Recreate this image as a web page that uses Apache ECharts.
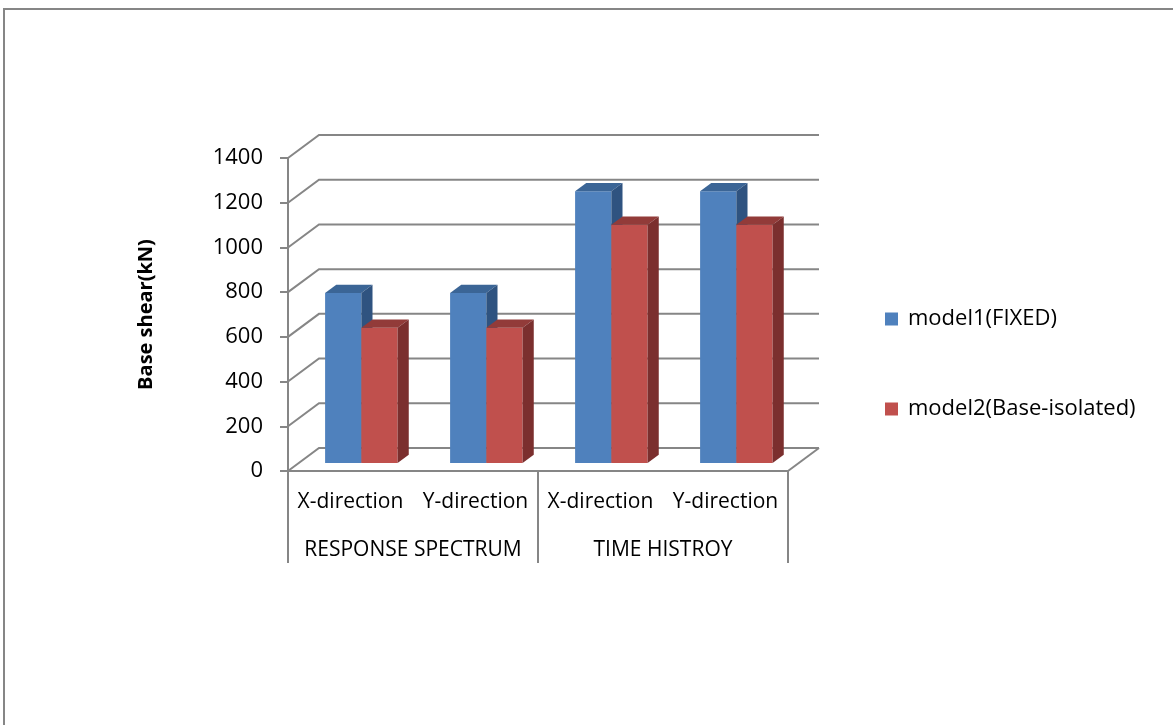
<!DOCTYPE html>
<html>
<head>
<meta charset="utf-8">
<script src="https://cdn.jsdelivr.net/npm/echarts@6/dist/echarts.min.js"></script>
<style>
  html, body { margin: 0; padding: 0; background: #fff; }
  #ch1 { width: 1173px; height: 725px; }
</style>
</head>
<body>
<div id="ch1"></div>
<script>
var directions = ['X-direction', 'Y-direction', 'X-direction', 'Y-direction'];
var methods = ['RESPONSE SPECTRUM', 'TIME HISTROY'];
var model1 = [760, 760, 1215, 1215];
var model2 = [605, 605, 1065, 1065];
var yTicks = [0, 200, 400, 600, 800, 1000, 1200, 1400];

// depth of the 3d box, in pixels
var DX = 31, DY = -23;
var FRONT = 0.35, BACK = 0.71, BAR_FRAC = 0.29;
var LINE = '#868686';
var FONT = 'Open Sans';

window.onload = function() {
  var ch1 = echarts.init(document.getElementById('ch1'));

  function bar3d(side, front, top, right) {
    return function(params, api) {
      var cat = api.value(0), v = api.value(1);
      var base = api.coord([cat, 0]);
      var head = api.coord([cat, v]);
      var w = api.size([1, 0])[0] * BAR_FRAC;
      var bx = DX * (BACK - FRONT), by = DY * (BACK - FRONT);
      var x0 = base[0] + DX * FRONT + (side < 0 ? -w : 0);
      var x1 = x0 + w;
      var y0 = base[1] + DY * FRONT;
      var y1 = head[1] + DY * FRONT;
      return {
        type: 'group',
        children: [
          { type: 'rect', shape: { x: x0, y: y1, width: w, height: y0 - y1 }, style: { fill: front } },
          { type: 'polygon', shape: { points: [[x0, y1], [x1, y1], [x1 + bx, y1 + by], [x0 + bx, y1 + by]] }, style: { fill: top } },
          { type: 'polygon', shape: { points: [[x1, y1], [x1 + bx, y1 + by], [x1 + bx, y0 + by], [x1, y0]] }, style: { fill: right } }
        ]
      };
    };
  }

  function wall(params, api) {
    var cs = params.coordSys;
    var y = api.coord([0, api.value(1)])[1];
    var left = cs.x, right = cs.x + cs.width;
    var kids = [{
      type: 'polyline',
      shape: { points: [[left, y], [left + DX, y + DY], [right + DX, y + DY]] },
      style: { stroke: LINE, lineWidth: 2, fill: null }
    }];
    if (api.value(1) === 0) {
      kids.push({
        type: 'line',
        shape: { x1: right, y1: y, x2: right + DX, y2: y + DY },
        style: { stroke: LINE, lineWidth: 2 }
      });
    }
    return { type: 'group', children: kids };
  }

  var op1 = {
    backgroundColor: '#fff',
    animation: false,
    graphic: [{
      type: 'rect',
      shape: { x: 4, y: 9, width: 2000, height: 2000 },
      style: { fill: null, stroke: LINE, lineWidth: 2 },
      silent: true
    }],
    legend: {
      orient: 'vertical',
      left: 885,
      top: 306,
      padding: 0,
      itemWidth: 13,
      itemHeight: 13,
      itemGap: 64,
      icon: 'rect',
      textStyle: { fontFamily: FONT, fontSize: 22, color: '#000', lineHeight: 26, padding: [0, 0, 0, 5] },
      data: ['model1(FIXED)', 'model2(Base-isolated)']
    },
    grid: {
      left: 288,
      top: 158,
      width: 500,
      height: 313
    },
    xAxis: [{
      type: 'category',
      data: directions,
      axisLine: { lineStyle: { color: LINE, width: 2 } },
      axisTick: { show: false },
      axisLabel: { interval: 0, margin: 21, fontFamily: FONT, fontSize: 21, color: '#000' }
    }, {
      type: 'category',
      data: methods,
      position: 'bottom',
      axisLine: { show: false },
      axisTick: { show: true, interval: 0, length: 92, lineStyle: { color: LINE, width: 2 } },
      axisLabel: { interval: 0, margin: 69, fontFamily: FONT, fontSize: 21, color: '#000' }
    }],
    yAxis: {
      type: 'value',
      min: 0,
      max: 1400,
      interval: 200,
      name: 'Base shear(kN)',
      nameLocation: 'middle',
      nameRotate: 90,
      nameGap: 132,
      nameTextStyle: { fontFamily: FONT, fontSize: 20, fontWeight: 'bold', color: '#000' },
      axisLine: { show: true, lineStyle: { color: LINE, width: 2 } },
      axisTick: { show: true, length: 8, lineStyle: { color: LINE, width: 2 } },
      splitLine: { show: false },
      axisLabel: { margin: 25, fontFamily: FONT, fontSize: 22, color: '#000', formatter: function(v) { return String(v); } }
    },
    series: [{
      type: 'custom',
      silent: true,
      renderItem: wall,
      data: yTicks.map(function(t) { return [0, t]; }),
      z: 1
    }, {
      name: 'model1(FIXED)',
      type: 'custom',
      renderItem: bar3d(-1, '#4F81BD', '#3B6596', '#2F5380'),
      itemStyle: { color: '#4F81BD' },
      data: model1.map(function(v, i) { return [i, v]; }),
      z: 2
    }, {
      name: 'model2(Base-isolated)',
      type: 'custom',
      renderItem: bar3d(1, '#C0504D', '#923B39', '#7B2F2E'),
      itemStyle: { color: '#C0504D' },
      data: model2.map(function(v, i) { return [i, v]; }),
      z: 3
    }]
  };

  ch1.setOption(op1);
};
</script>
</body>
</html>
